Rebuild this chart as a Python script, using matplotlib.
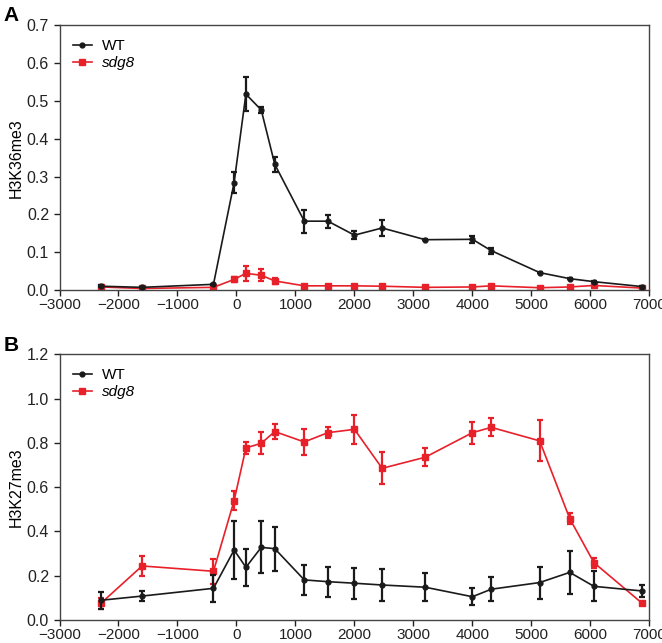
import numpy as np
import matplotlib
matplotlib.use("Agg")
import matplotlib.pyplot as plt

plt.rcParams['font.family'] = ['Liberation Sans', 'DejaVu Sans']

# positions relative to TSS (bp)
pos = [-2300, -1600, -390, -40, 160, 420, 650, 1150, 1550, 2000, 2470,
       3200, 4000, 4320, 5140, 5650, 6060, 6880]

# H3K36me3
k36_wt = [0.010, 0.007, 0.015, 0.284, 0.518, 0.476, 0.332, 0.182, 0.182, 0.145,
          0.164, 0.133, 0.134, 0.104, 0.046, 0.030, 0.022, 0.009]
k36_wt_err = [0.002, 0.002, 0.002, 0.028, 0.045, 0.007, 0.020, 0.030, 0.017, 0.010,
              0.020, 0.002, 0.010, 0.008, 0.002, 0.002, 0.002, 0.002]
k36_sdg8 = [0.008, 0.004, 0.007, 0.028, 0.044, 0.039, 0.024, 0.011, 0.011, 0.011,
            0.010, 0.007, 0.008, 0.011, 0.006, 0.008, 0.012, 0.005]
k36_sdg8_err = [0.002, 0.002, 0.002, 0.007, 0.020, 0.016, 0.008, 0.002, 0.002, 0.002,
                0.002, 0.002, 0.002, 0.002, 0.002, 0.002, 0.002, 0.002]

# H3K27me3
k27_wt = [0.089, 0.108, 0.143, 0.316, 0.238, 0.328, 0.322, 0.181, 0.173, 0.166,
          0.158, 0.148, 0.105, 0.139, 0.169, 0.215, 0.152, 0.131]
k27_wt_err = [0.038, 0.024, 0.062, 0.130, 0.084, 0.118, 0.100, 0.067, 0.068, 0.071,
              0.071, 0.063, 0.039, 0.054, 0.072, 0.097, 0.067, 0.025]
k27_sdg8 = [0.075, 0.244, 0.220, 0.539, 0.777, 0.798, 0.851, 0.804, 0.846, 0.861,
            0.685, 0.735, 0.846, 0.870, 0.809, 0.458, 0.259, 0.075]
k27_sdg8_err = [0.024, 0.044, 0.056, 0.043, 0.027, 0.049, 0.035, 0.060, 0.026, 0.066,
                0.073, 0.041, 0.050, 0.041, 0.092, 0.023, 0.023, 0.004]

BLACK = '#1a1a1a'
RED = '#e8202a'

fig = plt.figure(figsize=(6.62, 6.43), dpi=100)
axA = fig.add_axes([0.0899, 0.549, 0.891, 0.4117])
axB = fig.add_axes([0.0899, 0.0358, 0.891, 0.4132])


def draw(ax, wt, wt_err, sd, sd_err, ylim, yticks, ylabel):
    eb_wt = ax.errorbar(pos, wt, yerr=wt_err, color=BLACK, marker='o', ms=3.5, lw=1.2,
                        elinewidth=1.6, capsize=2.3, capthick=1.6, zorder=3)
    eb_sd = ax.errorbar(pos, sd, yerr=sd_err, color=RED, marker='s', ms=4, lw=1.2,
                        elinewidth=1.6, capsize=2.3, capthick=1.6, zorder=2)
    ax.set_xlim(-3000, 7000)
    ax.set_ylim(*ylim)
    ax.set_xticks(np.arange(-3000, 7001, 1000))
    ax.set_yticks(yticks)
    ax.set_yticklabels([f'{t:.1f}' for t in yticks])
    ax.set_ylabel(ylabel, fontsize=11.5, labelpad=2)
    ax.tick_params(direction='out', length=4, width=1, labelsize=11.5, colors='#222222')
    ax.tick_params(axis='x', labelsize=11, pad=2)
    for s in ax.spines.values():
        s.set_color('#444444')
        s.set_linewidth(1)
    leg = ax.legend([eb_wt.lines[0], eb_sd.lines[0]], ['WT', 'sdg8'],
                    loc='upper left', frameon=False, fontsize=11, handlelength=1.2,
                    handletextpad=0.7, borderaxespad=0.5, labelspacing=0.2)
    leg.get_texts()[1].set_fontstyle('italic')


draw(axA, k36_wt, k36_wt_err, k36_sdg8, k36_sdg8_err, (0, 0.7),
     np.arange(0, 0.71, 0.1), 'H3K36me3')
draw(axB, k27_wt, k27_wt_err, k27_sdg8, k27_sdg8_err, (0, 1.2),
     np.arange(0, 1.21, 0.2), 'H3K27me3')

fig.text(0.005, 0.99, 'A', fontsize=15, fontweight='bold', va='top')
fig.text(0.005, 0.478, 'B', fontsize=15, fontweight='bold', va='top')

fig.savefig('out.png', dpi=100)
